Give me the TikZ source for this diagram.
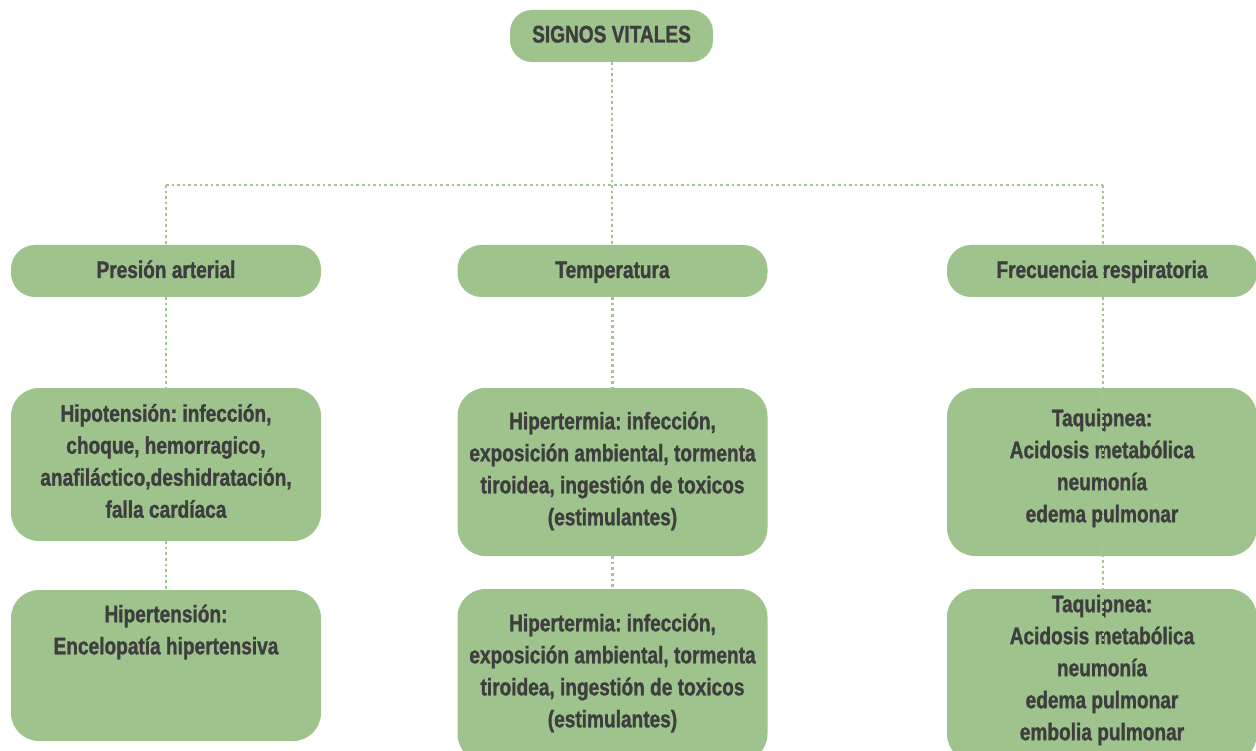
\documentclass[tikz,border=0pt]{standalone}
\usepackage{fontspec}
\setmainfont{Liberation Sans}[FakeStretch=0.795, FakeBold=1.2]
\frenchspacing
\definecolor{boxgreen}{HTML}{9FC38C}
\definecolor{dotgreen}{HTML}{A2C592}
\definecolor{inkgray}{HTML}{3E3E3F}
\begin{document}
\begin{tikzpicture}[x=1pt,y=-1pt,
  box/.style={fill=boxgreen, draw=none, inner sep=0pt, rounded corners=#1},
  box/.default=28pt,
  txt/.style={text=inkgray, align=center, inner sep=0pt,
    font=\fontsize{24}{32}\selectfont\bfseries},
  line/.style={txt, anchor=base},
  dots/.style={draw=dotgreen, line width=2.8pt, line cap=butt,
    dash pattern=on 2.6pt off 3pt}]
\useasboundingbox (0,0) rectangle (1256,751);

% top node
\node[box=22pt, minimum width=203pt, minimum height=52pt] (signos) at (611.5,36) {};
\node[line] (t-signos) at (611.5,42.5) {SIGNOS VITALES};

% first row
\node[box=24pt, minimum width=310pt, minimum height=52pt] (presion) at (166,271) {};
\node[box=24pt, minimum width=310pt, minimum height=52pt] (temp) at (612.5,271) {};
\node[box=24pt, minimum width=310pt, minimum height=52pt] (frec) at (1102,271) {};
\node[line] (t-presion) at (166,278) {Presión arterial};
\node[line] (t-temp) at (612.5,278) {Temperatura};
\node[line] (t-frec) at (1102,278) {Frecuencia respiratoria};

% second row
\node[box, minimum width=310pt, minimum height=153pt] (hipo) at (166,464.5) {};
\node[box, minimum width=310pt, minimum height=168pt] (term1) at (612.5,472) {};
\node[box, minimum width=310pt, minimum height=168pt] (taqui1) at (1102,472) {};
\node[txt] (t-hipo) at (166,461) {Hipotensión: infección,\\choque, hemorragico,\\anafiláctico,deshidratación,\\falla cardíaca};
\node[txt] (t-term1) at (612.5,471) {Hipertermia: infección,\\exposición ambiental, tormenta\\tiroidea, ingestión de toxicos\\(estimulantes)};
\node[txt] (t-taqui1) at (1102,468) {Taquipnea:\\Acidosis metabólica\\neumonía\\edema pulmonar};

% third row
\node[box, minimum width=310pt, minimum height=151pt] (hiper) at (166,665.5) {};
\node[box, minimum width=310pt, minimum height=173pt] (term2) at (612.5,675.5) {};
\node[box, minimum width=310pt, minimum height=173pt] (taqui2) at (1102,675.5) {};
\node[txt] (t-hiper) at (166,632) {Hipertensión:\\Encelopatía hipertensiva};
\node[txt] (t-term2) at (612.5,673) {Hipertermia: infección,\\exposición ambiental, tormenta\\tiroidea, ingestión de toxicos\\(estimulantes)};
\node[txt] (t-taqui2) at (1102,670) {Taquipnea:\\Acidosis metabólica\\neumonía\\edema pulmonar\\embolia pulmonar};

% junctions
\coordinate (jleft) at (166,185);
\coordinate (jmid) at (612,185);
\coordinate (jright) at (1103,185);
\coordinate (rend) at (1103,690);

% connectors
\draw[dots] (signos.south -| jmid) -- (jmid);
\draw[dots] (jleft) -- (jright);
\draw[dots] (jleft) -- (presion.north);
\draw[dots] (jmid) -- (jmid |- temp.north);
\draw[dots] (presion.south) -- (hipo.north);
\draw[dots] (hipo.south) -- (hiper.north);
\draw[dots] (temp.south) -- (term1.north);
\draw[dots] (term1.south) -- (term2.north);
% the right branch runs over its boxes
\draw[dots] (jright) -- (rend);
\end{tikzpicture}
\end{document}
